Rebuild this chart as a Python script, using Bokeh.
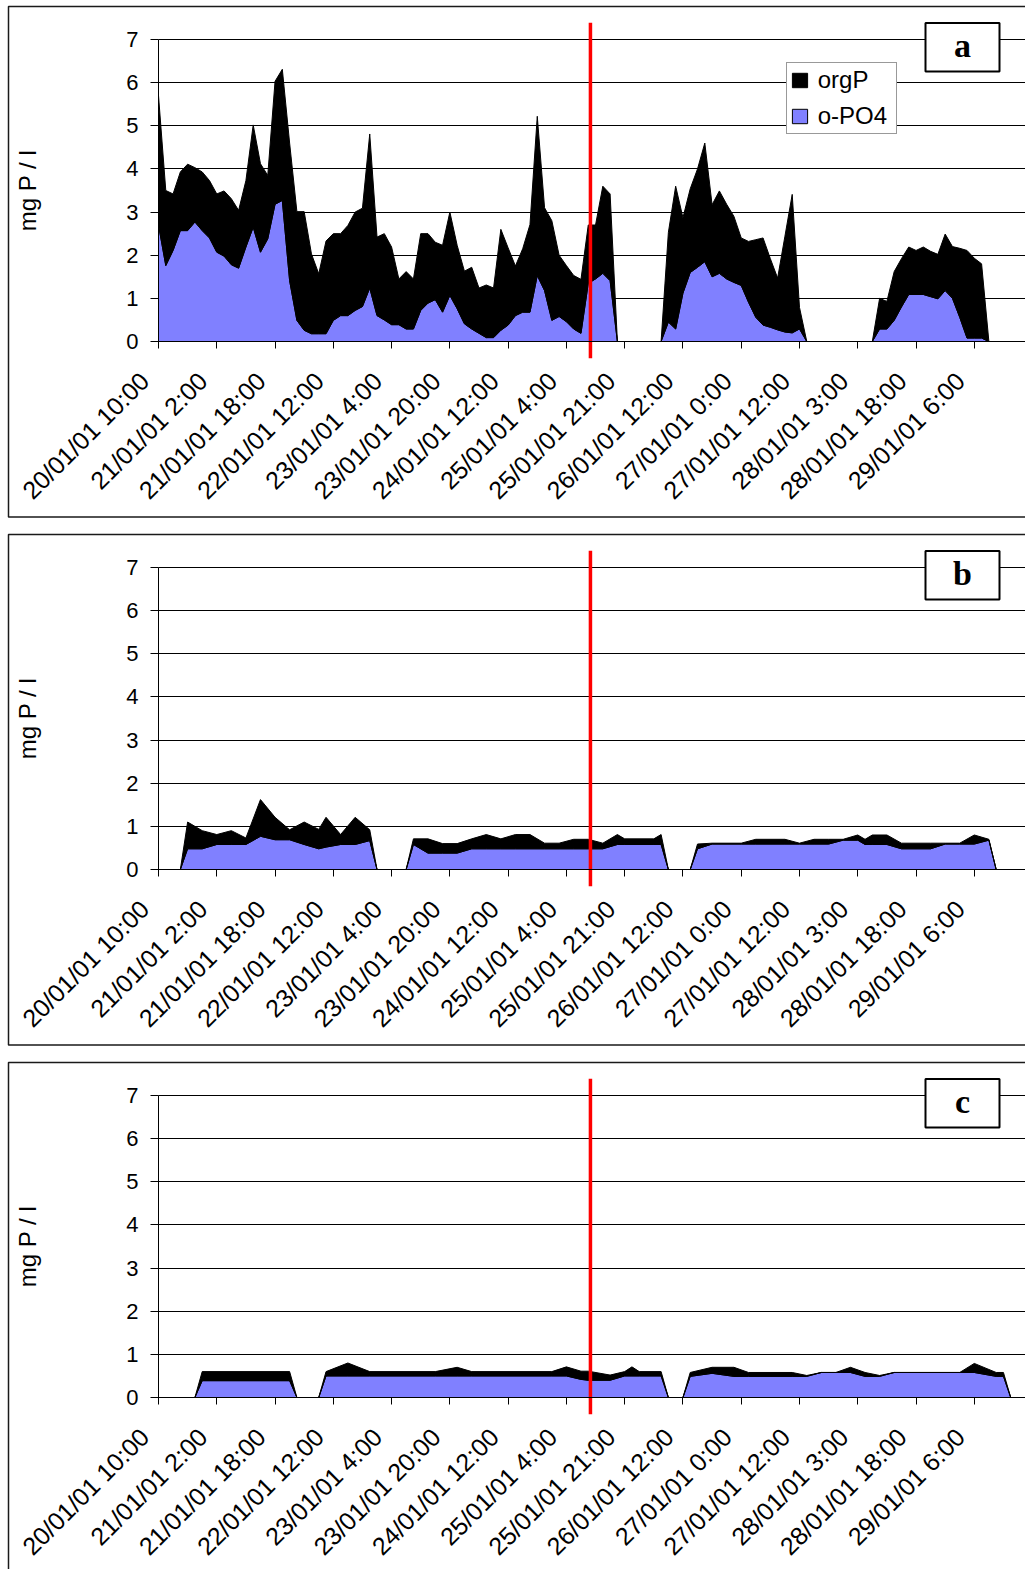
import numpy as np
from bokeh.plotting import figure
from bokeh.layouts import column
from bokeh.models import (FixedTicker, BoxAnnotation, Label, Legend,
                          LegendItem, Range1d, LinearAxis)
from bokeh.embed import file_html
from bokeh.resources import INLINE

# ---- data -----------------------------------------------------------------
# category labels, one every 8 sampling steps
tick_labels = ["20/01/01 10:00", "21/01/01 2:00", "21/01/01 18:00",
               "22/01/01 12:00", "23/01/01 4:00", "23/01/01 20:00",
               "24/01/01 12:00", "25/01/01 4:00", "25/01/01 21:00",
               "26/01/01 12:00", "27/01/01 0:00", "27/01/01 12:00",
               "28/01/01 3:00", "28/01/01 18:00", "29/01/01 6:00"]
tick_step = 8

# (a) total P and ortho-phosphate, every sampling step (mg P / l)
tp_a = [5.70, 3.50, 3.42, 3.93, 4.11, 4.03, 3.93, 3.73, 3.42, 3.49,
        3.31, 3.04, 3.73, 5.02, 4.12, 3.85, 6.03, 6.31, 4.60, 3.01,
        3.01, 2.03, 1.57, 2.33, 2.50, 2.50, 2.69, 3.00, 3.09, 4.81,
        2.42, 2.50, 2.19, 1.45, 1.62, 1.45, 2.50, 2.50, 2.30, 2.23,
        3.00, 2.23, 1.63, 1.72, 1.24, 1.31, 1.24, 2.60, 2.17, 1.75,
        2.15, 2.71, 5.22, 3.10, 2.80, 2.00, 1.76, 1.53, 1.44, 2.70,
        2.70, 3.60, 3.42, 0, 0, 0, 0, 0, 0, 0,
        2.53, 3.60, 2.87, 3.54, 4.00, 4.60, 3.17, 3.49, 3.18, 2.90,
        2.40, 2.32, 2.36, 2.40, 1.92, 1.47, 2.44, 3.41, 0.79, 0,
        0, 0, 0, 0, 0, 0, 0, 0, 0, 1.00,
        0.93, 1.62, 1.92, 2.19, 2.11, 2.19, 2.09, 2.02, 2.49, 2.20,
        2.16, 2.11, 1.93, 1.80, 0, 0, 0, 0, 0, 0, 0]
po4_a = [2.70, 1.76, 2.11, 2.57, 2.57, 2.77, 2.57, 2.40, 2.07, 1.98,
         1.78, 1.70, 2.19, 2.65, 2.07, 2.38, 3.18, 3.27, 1.41, 0.49,
         0.26, 0.18, 0.18, 0.18, 0.49, 0.60, 0.60, 0.72, 0.81, 1.24,
         0.60, 0.50, 0.39, 0.39, 0.29, 0.29, 0.72, 0.89, 0.97, 0.68,
         1.07, 0.76, 0.41, 0.29, 0.19, 0.09, 0.09, 0.26, 0.38, 0.60,
         0.68, 0.68, 1.53, 1.18, 0.49, 0.58, 0.46, 0.29, 0.19, 1.35,
         1.45, 1.58, 1.41, 0, 0, 0, 0, 0, 0, 0,
         0.45, 0.29, 1.12, 1.60, 1.72, 1.85, 1.50, 1.58, 1.45, 1.37,
         1.30, 0.91, 0.56, 0.38, 0.33, 0.27, 0.22, 0.20, 0.29, 0,
         0, 0, 0, 0, 0, 0, 0, 0, 0, 0.29,
         0.29, 0.49, 0.80, 1.09, 1.09, 1.09, 1.04, 0.99, 1.18, 1.00,
         0.56, 0.08, 0.08, 0.08, 0, 0, 0, 0, 0, 0, 0]
x_a = list(range(len(tp_a)))

# (b) sampling steps that carry a value
x_b = [0, 3, 4, 6, 8, 10, 12, 14, 16, 18, 20, 22, 23, 25, 27, 29, 30,
       34, 35, 37, 39, 41, 43, 45, 47, 49, 51, 53, 55, 57, 59, 61, 63, 64, 68, 69, 70,
       73, 74, 76, 80, 82, 86, 88, 90, 92, 94, 96, 97, 98, 100, 102, 106, 108, 110,
       112, 114, 115, 120]
tp_b = [0, 0, 1.10, 0.90, 0.81, 0.90, 0.73, 1.62, 1.21, 0.92, 1.10, 0.93, 1.21, 0.81, 1.21, 0.92, 0,
        0, 0.71, 0.71, 0.60, 0.60, 0.71, 0.81, 0.71, 0.81, 0.81, 0.61, 0.61, 0.70, 0.70, 0.61, 0.81,
        0.71, 0.71, 0.81, 0,
        0, 0.59, 0.61, 0.61, 0.70, 0.70, 0.61, 0.70, 0.70, 0.70, 0.80, 0.70, 0.80, 0.80, 0.61, 0.61,
        0.61, 0.61, 0.80, 0.70, 0, 0]
po4_b = [0, 0, 0.48, 0.48, 0.58, 0.58, 0.58, 0.77, 0.69, 0.69, 0.58, 0.48, 0.52, 0.58, 0.58, 0.67, 0,
         0, 0.58, 0.38, 0.38, 0.38, 0.48, 0.48, 0.48, 0.48, 0.48, 0.48, 0.48, 0.48, 0.48, 0.48, 0.58,
         0.58, 0.58, 0.58, 0,
         0, 0.48, 0.59, 0.59, 0.59, 0.59, 0.59, 0.59, 0.59, 0.68, 0.68, 0.58, 0.58, 0.58, 0.48, 0.48,
         0.59, 0.59, 0.59, 0.68, 0, 0]

# (c)
x_c = [0, 5, 6, 18, 19,
       22, 23, 26, 29, 38, 41, 43, 54, 56, 58, 59, 62, 64, 65, 66, 69, 70,
       72, 73, 76, 79, 81, 87, 89, 91, 93, 95, 97, 99, 101, 110, 112, 115, 116, 117, 120]
tp_c = [0, 0, 0.60, 0.60, 0,
        0, 0.60, 0.80, 0.60, 0.60, 0.70, 0.60, 0.60, 0.71, 0.61, 0.61, 0.52, 0.60, 0.71, 0.60, 0.60, 0,
        0, 0.58, 0.70, 0.70, 0.58, 0.58, 0.51, 0.58, 0.58, 0.70, 0.58, 0.51, 0.58, 0.58, 0.79, 0.58,
        0.58, 0, 0]
po4_c = [0, 0, 0.39, 0.39, 0,
         0, 0.50, 0.50, 0.50, 0.50, 0.50, 0.50, 0.50, 0.50, 0.42, 0.40, 0.40, 0.50, 0.50, 0.50, 0.50, 0,
         0, 0.49, 0.56, 0.49, 0.49, 0.49, 0.49, 0.58, 0.58, 0.58, 0.49, 0.49, 0.58, 0.58, 0.58, 0.49,
         0.49, 0, 0]

event_x = 59.3               # red event marker on the step axis
event_y = (-0.39, 7.39)      # its drawn extent, a little past the axes
y_max = 7

# ---- layout constants (pixels) ---------------------------------------------
BLUE = "#8080FF"
FONT = "Liberation Sans"
WIDTH = 1025
FRAME_L, FRAME_T = 4, 2          # drawing area starts just outside the panel box
AXIS_X, AXIS_TOP, AXIS_BOTTOM = 158, 39, 341
PX_STEP = 7.284                  # pixels per sampling step
PX_UNIT = (AXIS_BOTTOM - AXIS_TOP) / y_max
X_END = (WIDTH - AXIS_X) / PX_STEP
LABEL_SHIFT = 14                 # category labels sit a little left of their tick


def box(left, right, top, bottom, frame_b, **kw):
    """Box given in page pixels of the panel, converted to drawing-area screen units."""
    return BoxAnnotation(left=left - FRAME_L, right=right - FRAME_L,
                         top=frame_b - top, bottom=frame_b - bottom,
                         left_units="screen", right_units="screen",
                         top_units="screen", bottom_units="screen", **kw)


def make_panel(xs, tp, po4, tag, height, with_legend):
    frame_b = min(height, 522)
    y0 = -(frame_b - AXIS_BOTTOM) / PX_UNIT
    y1 = y_max + (AXIS_TOP - FRAME_T) / PX_UNIT
    x0 = -(AXIS_X - FRAME_L) / PX_STEP
    shift = LABEL_SHIFT / PX_STEP

    p = figure(width=WIDTH, height=height, output_backend="svg", toolbar_location=None,
               x_range=Range1d(x0, X_END), y_range=Range1d(y0, y1),
               min_border_left=FRAME_L, min_border_right=0, min_border_top=FRAME_T,
               min_border_bottom=height - frame_b, outline_line_color=None,
               background_fill_color="white", border_fill_color="white")
    p.extra_x_ranges = {"labels": Range1d(x0 + shift, X_END + shift)}

    xs = np.asarray(xs, float)
    tp = np.asarray(tp, float)
    po4 = np.asarray(po4, float)
    zeros = np.zeros_like(xs)

    r_po4 = p.patch(np.concatenate([xs, xs[::-1]]), np.concatenate([po4, zeros[::-1]]),
                    fill_color=BLUE, line_color="black", line_width=1)
    r_org = p.patch(np.concatenate([xs, xs[::-1]]), np.concatenate([tp, po4[::-1]]),
                    fill_color="black", line_color="black", line_width=1)

    ticks = [i * tick_step for i in range(len(tick_labels))]

    # x axis line and ticks on y = 0
    xa = p.xaxis[0]
    xa.fixed_location = 0
    xa.bounds = (0, X_END)
    xa.ticker = FixedTicker(ticks=ticks)
    xa.major_label_overrides = {t: "" for t in ticks}
    xa.major_tick_out = 7
    xa.major_tick_in = 0
    xa.minor_tick_line_color = None
    xa.axis_line_color = "black"
    xa.major_tick_line_color = "black"

    # slanted category labels
    xl = LinearAxis(x_range_name="labels", fixed_location=0,
                    ticker=FixedTicker(ticks=ticks),
                    major_label_overrides={t: s for t, s in zip(ticks, tick_labels)},
                    major_label_orientation=np.pi / 4,
                    major_label_text_font=FONT, major_label_text_font_size="25px",
                    major_label_text_color="black", major_label_standoff=35,
                    major_tick_out=0, major_tick_in=0,
                    axis_line_color=None, major_tick_line_color=None,
                    minor_tick_line_color=None)
    p.add_layout(xl, "below")

    # y axis on x = 0
    ya = p.yaxis[0]
    ya.fixed_location = 0
    ya.bounds = (0, y_max)
    ya.ticker = FixedTicker(ticks=list(range(0, y_max + 1)))
    ya.major_label_text_font = FONT
    ya.major_label_text_font_size = "22px"
    ya.major_label_text_color = "black"
    ya.major_label_standoff = 12
    ya.major_tick_out = 8
    ya.major_tick_in = 0
    ya.minor_tick_line_color = None
    ya.axis_line_color = "black"
    ya.major_tick_line_color = "black"
    ya.axis_label = "mg P / l"
    ya.axis_label_text_font = FONT
    ya.axis_label_text_font_size = "24px"
    ya.axis_label_text_font_style = "normal"
    ya.axis_label_text_color = "black"
    ya.axis_label_standoff = 82

    p.xgrid.visible = False
    p.ygrid.ticker = FixedTicker(ticks=list(range(1, y_max + 1)))
    p.ygrid.grid_line_color = "black"
    p.ygrid.grid_line_width = 1
    try:
        p.ygrid.cross_bounds = (0, X_END)
    except AttributeError:
        p.ygrid.visible = False
        gy = list(range(1, y_max + 1))
        p.segment(x0=[0] * len(gy), x1=[X_END] * len(gy), y0=gy, y1=gy,
                  line_color="black", line_width=1, level="underlay")

    # event marker
    p.segment(x0=[event_x], y0=[event_y[0]], x1=[event_x], y1=[event_y[1]],
              line_color="#FF0000", line_width=3.5)

    # outer panel box
    p.add_layout(box(8, 1040, 6, 516.5, frame_b, fill_alpha=0,
                     line_color="#1a1a1a", line_alpha=1, line_width=1.5))

    # panel tag
    p.add_layout(box(925, 999, 22.5, 71, frame_b, fill_color="white", fill_alpha=1,
                     line_color="black", line_alpha=1, line_width=2))
    p.add_layout(Label(x=962 - FRAME_L, y=frame_b - 45.3, x_units="screen", y_units="screen",
                       text=tag, text_align="center", text_baseline="alphabetic",
                       text_font="Liberation Serif", text_font_style="bold",
                       text_font_size="34px", text_color="black"))

    if with_legend:
        legend = Legend(items=[LegendItem(label="orgP", renderers=[r_org]),
                               LegendItem(label="o-PO4", renderers=[r_po4])],
                        location=(785.7 - FRAME_L, frame_b - 134),
                        label_text_font=FONT, label_text_font_size="24px",
                        label_text_color="black",
                        glyph_width=19, glyph_height=18, label_standoff=9,
                        label_width=75, padding=3, spacing=8, margin=0,
                        border_line_color="#333333", border_line_width=1,
                        background_fill_color="white", background_fill_alpha=1)
        p.add_layout(legend)
    return p


pa = make_panel(x_a, tp_a, po4_a, "a", 528, True)
pb = make_panel(x_b, tp_b, po4_b, "b", 528, False)
pc = make_panel(x_c, tp_c, po4_c, "c", 513, False)

layout = column(pa, pb, pc, spacing=0)
open("out.html", "w").write(file_html(layout, INLINE))
